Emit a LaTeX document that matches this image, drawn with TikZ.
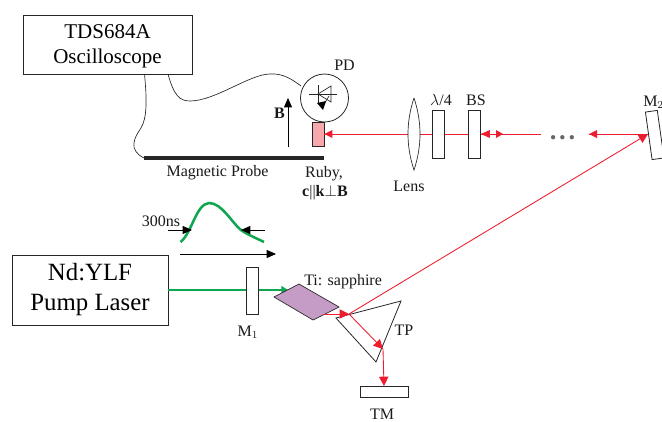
\documentclass[tikz,border=0pt]{standalone}
\usepackage{fontspec}
\setmainfont{Liberation Serif}
\usetikzlibrary{arrows.meta}
\definecolor{rayred}{HTML}{ED1C2E}
\definecolor{beamgreen}{HTML}{0FA650}
\definecolor{rubypink}{HTML}{F7A8AC}
\definecolor{crystal}{HTML}{C49CC6}
\tikzset{
  box/.style={draw=black!85,line width=0.6pt,fill=white,inner sep=0pt,align=center},
  lbl/.style={inner sep=0pt,font=\fontsize{12}{14}\selectfont,text=black!90,align=center},
  bigtxt/.style={font=\fontsize{15.75}{18.75}\selectfont},
  hugetxt/.style={font=\fontsize{18.6}{22.5}\selectfont},
  ray/.style={draw=rayred,line width=0.65pt},
  rayhead/.style={-{Triangle[length=7pt,width=7pt]}},
  blackarrow/.style={draw=black,line width=0.6pt,-{Triangle[length=7pt,width=6pt]}},
  wire/.style={draw=black!85,line width=0.5pt},
  greenbeam/.style={draw=beamgreen,line width=1.9pt},
  pt/.style={coordinate}
}
\begin{document}
\begin{tikzpicture}[x=0.75pt,y=-0.75pt]
\useasboundingbox (0,0) rectangle (662,422);
\clip (0,0) rectangle (662,422);
% instruments
\node[box,minimum width=126.75pt,minimum height=44.25pt] (scope) at (107.5,44.5) {};
\node[inner sep=0pt,align=center,bigtxt] (scopetxt) at (107.5,46.5) {TDS684A\\Oscilloscope};
\node[box,hugetxt,minimum width=117pt,minimum height=52.5pt] (laser) at (90,290) {Nd:YLF\\Pump Laser};
% probe
\node[pt] (barL) at (144,158) {};
\node[pt] (barR) at (324,158) {};
\draw[line width=2.6pt,draw=black!85] (barL) -- (barR);
\node[lbl] (probe) at (217.5,173) {Magnetic Probe};
\node[pt] (scopeA) at (144.5,74) {};
\node[pt] (scopeB) at (168,74) {};
\node[pt] (pdW) at (301,86) {};
\draw[wire] (scopeA) .. controls (147,100) and (147,118) .. (141,128)
  .. controls (134,138) and (128,150) .. (barL);
\draw[wire] (scopeB) .. controls (174,96) and (180,101) .. (190,101)
  .. controls (215,101) and (250,74) .. (270,74)
  .. controls (283,73) and (293,80) .. (pdW);
% B field
\node[pt] (bS) at (288,147) {};
\node[pt] (bE) at (288,98) {};
\draw[blackarrow] (bS) -- (bE);
\node[lbl,font=\fontsize{12}{14}\selectfont\bfseries] (blab) at (279.5,113) {B};
% photodiode
\node[draw=black!85,line width=0.6pt,circle,minimum size=36pt,inner sep=0pt] (pd) at (324.5,98) {};
\node[lbl] (pdlab) at (344.5,65) {PD};
\node[pt] (dL) at (309,94) {};
\node[pt] (dR) at (337,94) {};
\draw[wire] (dL) -- (dR);
\draw[wire] (318,85) -- (318,103);
\draw[wire] (318,94) -- (331,86) -- (331,102) -- cycle;
\draw[wire] (329,96) -- (323,106);
\fill[black] (317,103) -- (326,101) -- (323,110) -- cycle;
% ruby
\node[draw=black!85,line width=0.6pt,fill=rubypink,minimum width=9pt,minimum height=18pt,inner sep=0pt] (ruby) at (318,134) {};
\node[lbl] (rubylab) at (324,174) {Ruby,};
\node[lbl] (rubyaxes) at (325,193) {\textbf{c}||\textbf{k}$\perp$\textbf{B}};
% red beam
\node[pt] (beamEnd) at (541,134) {};
\node[pt] (m2hit) at (648,134) {};
\node[pt] (gap) at (589,134) {};
\draw[ray] (ruby.east) -- (beamEnd);
\draw[ray] (gap) -- (m2hit);
% optics
\draw[draw=black!85,line width=0.5pt,fill=white] (414,98) .. controls (406,122) and (406,146) .. (414,170)
  .. controls (422,146) and (422,122) .. (414,98);
\node[lbl] (lenslab) at (409,186) {Lens};
\node[box,minimum width=9pt,minimum height=36pt] (qwp) at (438.5,134) {};
\node[box,minimum width=9pt,minimum height=36pt] (bs) at (474.5,134) {};
\node[lbl] (qwplab) at (441,100) {$\lambda$/4};
\node[lbl] (bslab) at (476,100) {BS};
\fill[rayred] (ruby.east) -- ++(8,-4) -- ++(0,8) -- cycle;
\fill[rayred] (bs.east) -- ++(9,-4) -- ++(0,8) -- cycle;
\fill[rayred] (503,134) -- ++(-7,-4) -- ++(0,8) -- cycle;
\fill[rayred] (gap) -- ++(8,-4) -- ++(0,8) -- cycle;
\node[inner sep=0pt,text=black!60,font=\fontsize{20}{22}\selectfont\bfseries] (dots) at (562.5,138) {.\kern2pt.\kern2pt.};
% M2
\node[draw=black!85,line width=0.6pt,fill=white,minimum width=9pt,minimum height=36pt,inner sep=0pt,rotate=8] (mtwo) at (654.7,135) {};
\node[lbl,anchor=west] (m2lab) at (643,102) {M$_2$};
% pulse
\draw[greenbeam] (180.5,242) .. controls (192,233) and (196,204) .. (209,203)
  .. controls (222,203) and (232,223) .. (241,230) .. controls (248,235) and (256,238) .. (264,242);
\node[lbl] (ns) at (161,221) {300ns};
\node[pt] (ns1) at (168,230) {};
\node[pt] (ns1e) at (192,230) {};
\node[pt] (ns2) at (265,230) {};
\node[pt] (ns2e) at (241,230) {};
\draw[blackarrow] (ns1) -- (ns1e);
\draw[blackarrow] (ns2) -- (ns2e);
\node[pt] (timeS) at (180,254) {};
\node[pt] (timeE) at (276,254) {};
\draw[blackarrow] (timeS) -- (timeE);
% crystal + pump
\node[pt] (xtalIn) at (288,290) {};
\draw[greenbeam,-{Triangle[length=5pt,width=6pt]}] (laser.east |- xtalIn) -- (xtalIn);
\node[box,minimum width=9pt,minimum height=35.25pt] (mone) at (252,290.5) {};
\node[lbl] (m1lab) at (248,332) {M$_1$};
\draw[draw=black!85,line width=0.5pt,fill=crystal] (274,297) -- (299,284) -- (339,307) -- (313,320) -- cycle;
\node[lbl,anchor=west] (tilab) at (304,282) {Ti: sapphire};
% prism and beams
\draw[draw=black!85,line width=0.6pt] (336,318) -- (401,301) -- (376,362) -- cycle;
\node[lbl] (tplab) at (404,330) {TP};
\node[pt] (xOut) at (323,314) {};
\node[pt] (pIn) at (349,314) {};
\node[pt] (pRefl) at (383,349) {};
\node[pt] (tmTop) at (384,386) {};
\draw[ray,rayhead] (xOut) -- (pIn);
\draw[ray,rayhead] (pIn) -- (m2hit);
\draw[ray,rayhead] (pIn) -- (pRefl);
\draw[ray,rayhead] (pRefl) -- (tmTop);
\node[box,minimum width=36pt,minimum height=8.25pt] (tm) at (384,392) {};
\node[lbl] (tmlab) at (382,414) {TM};
\end{tikzpicture}
\end{document}
